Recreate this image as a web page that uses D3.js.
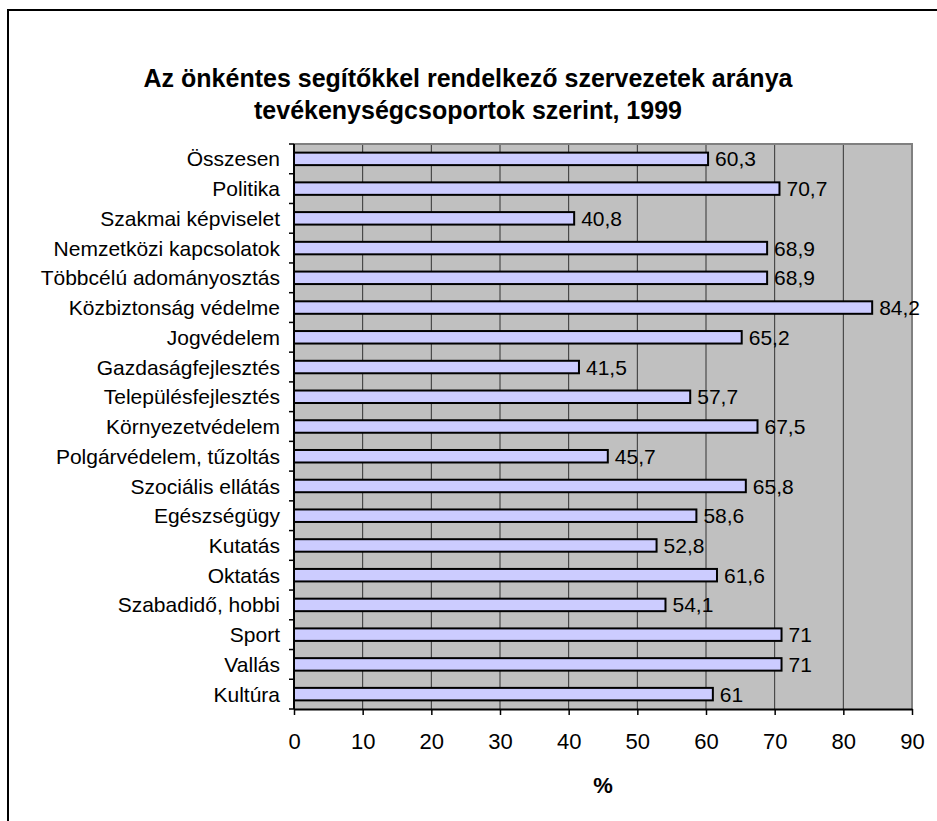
<!DOCTYPE html>
<html>
<head>
<meta charset="utf-8">
<script src="https://cdn.jsdelivr.net/npm/d3@7"></script>
<style>
  body { margin: 0; background: #fff; }
  text { font-family: "Liberation Sans", Arial, sans-serif; }
</style>
</head>
<body>
<svg id="chart"></svg>
<script>
// categories, top to bottom as in the picture
var categories = ["Összesen", "Politika", "Szakmai képviselet", "Nemzetközi kapcsolatok",
  "Többcélú adományosztás", "Közbiztonság védelme", "Jogvédelem", "Gazdaságfejlesztés",
  "Településfejlesztés", "Környezetvédelem", "Polgárvédelem, tűzoltás", "Szociális ellátás",
  "Egészségügy", "Kutatás", "Oktatás", "Szabadidő, hobbi", "Sport", "Vallás", "Kultúra"];
var values = [60.3, 70.7, 40.8, 68.9, 68.9, 84.2, 65.2, 41.5, 57.7, 67.5, 45.7, 65.8,
  58.6, 52.8, 61.6, 54.1, 71, 71, 61];
var xTicks = [0, 10, 20, 30, 40, 50, 60, 70, 80, 90];
var titleLines = ["Az önkéntes segítőkkel rendelkező szervezetek aránya",
  "tevékenységcsoportok szerint, 1999"];

var W = 937, H = 821;
var plot = {left: 294, right: 912, top: 144, bottom: 709};

var svg = d3.select("#chart").attr("width", W).attr("height", H);

// outer frame
svg.append("rect")
  .attr("x", 8).attr("y", 10)
  .attr("width", W + 10).attr("height", H + 10)
  .attr("fill", "#fff").attr("stroke", "#000").attr("stroke-width", 2);

// title
svg.append("g").selectAll("text")
  .data(titleLines)
  .enter().append("text")
  .attr("x", 468)
  .attr("y", function(d, i) { return 87 + i * 32; })
  .attr("text-anchor", "middle")
  .style("font-size", "25px")
  .style("font-weight", "bold")
  .text(function(d) { return d; });

var x = d3.scaleLinear().domain([0, 90]).range([plot.left, plot.right]);
var y = d3.scaleBand().domain(categories).range([plot.top, plot.bottom]).paddingInner(0.58).paddingOuter(0.29);

// plot area background
svg.append("rect")
  .attr("x", plot.left).attr("y", plot.top)
  .attr("width", plot.right - plot.left).attr("height", plot.bottom - plot.top)
  .attr("fill", "#c0c0c0");

// vertical gridlines
svg.append("g").selectAll("line")
  .data(xTicks.slice(1, -1))
  .enter().append("line")
  .attr("x1", function(d) { return x(d); }).attr("x2", function(d) { return x(d); })
  .attr("y1", plot.top).attr("y2", plot.bottom)
  .attr("stroke", "#333").attr("stroke-width", 1);

// plot border top/right
svg.append("path")
  .attr("d", "M" + plot.left + "," + plot.top + "H" + plot.right + "V" + plot.bottom)
  .attr("fill", "none").attr("stroke", "#808080").attr("stroke-width", 2);

// bars
svg.append("g").selectAll("rect")
  .data(values)
  .enter().append("rect")
  .attr("x", x(0))
  .attr("y", function(d, i) { return y(categories[i]); })
  .attr("width", function(d) { return x(d) - x(0); })
  .attr("height", y.bandwidth())
  .attr("fill", "#ccccff")
  .attr("stroke", "#000").attr("stroke-width", 2);

// value labels
svg.append("g").selectAll("text")
  .data(values)
  .enter().append("text")
  .attr("x", function(d) { return x(d) + 7; })
  .attr("y", function(d, i) { return y(categories[i]) + y.bandwidth() / 2; })
  .attr("dy", "0.36em")
  .style("font-size", "21px")
  .text(function(d) { return String(d).replace(".", ","); });

// y axis: line with ticks on category boundaries
var step = y.step();
var bounds = d3.range(categories.length + 1).map(function(i) { return plot.top + i * step; });
var yAxis = svg.append("g");
yAxis.append("line")
  .attr("x1", plot.left).attr("x2", plot.left)
  .attr("y1", plot.top).attr("y2", plot.bottom)
  .attr("stroke", "#000").attr("stroke-width", 2);
yAxis.selectAll("line.tick")
  .data(bounds)
  .enter().append("line").attr("class", "tick")
  .attr("x1", plot.left - 5).attr("x2", plot.left)
  .attr("y1", function(d) { return d; }).attr("y2", function(d) { return d; })
  .attr("stroke", "#000").attr("stroke-width", 1.5);
yAxis.selectAll("text")
  .data(categories)
  .enter().append("text")
  .attr("x", plot.left - 14)
  .attr("y", function(d) { return y(d) + y.bandwidth() / 2; })
  .attr("dy", "0.36em")
  .attr("text-anchor", "end")
  .style("font-size", "21px")
  .text(function(d) { return d; });

// x axis
var xAxis = svg.append("g")
  .attr("transform", "translate(0," + plot.bottom + ")")
  .call(d3.axisBottom(x).tickValues(xTicks).tickSize(6).tickPadding(18).tickSizeOuter(0));
xAxis.select(".domain").attr("stroke", "#000").attr("stroke-width", 2);
xAxis.selectAll(".tick line").attr("stroke", "#000").attr("stroke-width", 1.5);
xAxis.selectAll(".tick text")
  .style("font-size", "22px")
  .style("font-family", "'Liberation Sans', Arial, sans-serif")
  .attr("fill", "#000");

svg.append("text")
  .attr("x", (plot.left + plot.right) / 2)
  .attr("y", 793)
  .attr("text-anchor", "middle")
  .style("font-size", "22px")
  .style("font-weight", "bold")
  .text("%");
</script>
</body>
</html>
